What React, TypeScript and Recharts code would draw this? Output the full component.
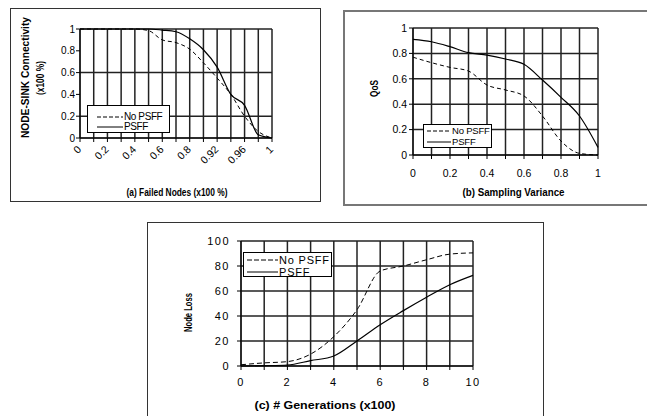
import { LineChart, Line, XAxis, YAxis, CartesianGrid, Legend, ReferenceLine } from "recharts";

const FONT = "'Liberation Sans', Arial, sans-serif";

// (a) failed nodes vs node-sink connectivity
const failedNodes = ["0", "0.1", "0.2", "0.3", "0.4", "0.5", "0.6", "0.7", "0.8", "0.9", "0.92", "0.94", "0.96", "0.98", "1"];
const connNoPsff = [1, 1, 1, 1, 1, 0.985, 0.9, 0.875, 0.815, 0.69, 0.55, 0.4, 0.2, 0.06, 0];
const connPsff = [1, 1, 1, 1, 1, 1, 0.99, 0.975, 0.91, 0.81, 0.65, 0.4, 0.3, 0.03, 0];
const connTicks = [0, 0.2, 0.4, 0.6, 0.8, 1];

// (b) sampling variance vs QoS
const variance = [0, 0.1, 0.2, 0.3, 0.4, 0.5, 0.6, 0.7, 0.8, 0.9, 1];
const qosNoPsff = [0.77, 0.727, 0.69, 0.661, 0.551, 0.512, 0.465, 0.307, 0.11, 0.013, 0];
const qosPsff = [0.911, 0.892, 0.853, 0.806, 0.787, 0.756, 0.714, 0.59, 0.454, 0.307, 0.06];
const qosTicks = [0, 0.2, 0.4, 0.6, 0.8, 1];

// (c) generations vs node loss
const generations = [0, 1, 2, 3, 4, 5, 6, 7, 8, 9, 10];
const lossNoPsff = [1, 2.5, 3.5, 9.5, 23.5, 45, 76, 80, 85, 89.5, 90.5];
const lossPsff = [0, 0.3, 0.8, 4.3, 8, 20, 33, 44.3, 55, 65, 72.5];
const lossTicks = [0, 20, 40, 60, 80, 100];

const seriesNames = ["No PSFF", "PSFF"];

const dataA = failedNodes.map((x, i) => ({ x, noPsff: connNoPsff[i], psff: connPsff[i] }));
const dataB = variance.map((x, i) => ({ x, noPsff: qosNoPsff[i], psff: qosPsff[i] }));
const dataC = generations.map((x, i) => ({ x, noPsff: lossNoPsff[i], psff: lossPsff[i] }));

const GRID = "#222";
const GRID_W = 1.5;
const BLACK = { stroke: "#000" };

const boldText = (text: string, dx: number, dy: number, size: number, len?: number, vertical?: boolean) =>
  (props: any) => {
    const vb = props.viewBox || { x: 0, y: 0, width: 0, height: 0 };
    const cx = vertical ? vb.x + dx : vb.x + vb.width / 2 + dx;
    const cy = vertical ? vb.y + vb.height / 2 + dy : vb.y + dy;
    return (
      <text
        x={cx}
        y={cy}
        textAnchor='middle'
        dominantBaseline='central'
        fontWeight='bold'
        fontSize={size}
        fontFamily={FONT}
        fill='#000'
        textLength={len}
        lengthAdjust={len ? "spacingAndGlyphs" : undefined}
        transform={vertical ? `rotate(-90, ${cx}, ${cy})` : undefined}>
        {text}
      </text>
    );
  };

const twoLineLabel = (props: any) => (
  <g>
    {boldText("NODE-SINK Connectivity", 5, -6, 10.5, 121, true)(props)}
    {boldText("(x100 %)", 19.5, -5.5, 10.5, 34, true)(props)}
  </g>
);

const SlantTick = (props: any) => {
  const { x, y, payload, index } = props;
  if (index % 2 !== 0) return <g />;
  const ax = x + 2;
  const ay = y + 6;
  return (
    <text
      x={ax}
      y={ay}
      transform={`rotate(-45, ${ax}, ${ay})`}
      textAnchor='end'
      fontSize={10.5}
      fontFamily={FONT}
      fill='#000'>
      {payload.value}
    </text>
  );
};

const makeLegend = (o: any) => (props: any) => (
  <div
    style={{
      border: "1px solid #000",
      background: "#fff",
      boxSizing: "border-box",
      width: o.w,
      height: o.h,
      paddingTop: o.pt,
      paddingLeft: o.pl,
      fontFamily: FONT,
      fontSize: o.fs,
      letterSpacing: o.ls || 0,
      color: "#000",
      lineHeight: 1,
    }}>
    {(props.payload || []).map((e: any) => (
      <div key={e.value} style={{ display: "flex", alignItems: "center", height: o.rh }}>
        <svg width={o.sw} height={4} style={{ marginRight: 1, flex: "none" }}>
          <line
            x1={0}
            y1={2}
            x2={o.sw}
            y2={2}
            stroke='#000'
            strokeWidth={1}
            strokeDasharray={e.dataKey === "noPsff" ? o.dash : undefined}
          />
        </svg>
        <span>{e.value}</span>
      </div>
    ))}
  </div>
);

const Frame = ({ left, top, width, height, border, children }: any) => (
  <div style={{ position: "absolute", left, top, width, height }}>
    <div
      style={{
        position: "absolute",
        inset: 0,
        border,
        boxSizing: "border-box",
      }}
    />
    <div style={{ position: "absolute", left: 0, top: 0 }}>{children}</div>
  </div>
);

const vLines = (values: (string | number)[]) =>
  values.map((v) => <ReferenceLine key={`v-${v}`} x={v} stroke={GRID} strokeWidth={GRID_W} />);

const lines = (dash: string) => [
  <Line
    key='n'
    type='monotone'
    dataKey='noPsff'
    name={seriesNames[0]}
    stroke='#000'
    strokeWidth={1}
    strokeDasharray={dash}
    dot={false}
    isAnimationActive={false}
  />,
  <Line
    key='p'
    type='monotone'
    dataKey='psff'
    name={seriesNames[1]}
    stroke='#000'
    strokeWidth={1.2}
    dot={false}
    isAnimationActive={false}
  />,
];

const App = () => {
  return (
    <div
      style={{
        position: "absolute",
        left: 0,
        top: 0,
        width: 647,
        height: 416,
        overflow: "hidden",
        background: "#fff",
      }}>
      <Frame left={10} top={8} width={311} height={194} border='1px solid #333'>
        <LineChart width={311} height={194} data={dataA} margin={{ top: 21, right: 49, bottom: 20, left: 10 }}>
          <CartesianGrid stroke={GRID} strokeWidth={GRID_W} vertical={false} />
          <XAxis
            dataKey='x'
            type='category'
            interval={0}
            height={44}
            tickSize={4}
            tickMargin={2}
            axisLine={BLACK}
            tickLine={BLACK}
            tick={SlantTick}
            label={boldText("(a) Failed Nodes (x100 %)", 1, 54, 11, 101)}
          />
          <YAxis
            domain={[0, 1]}
            ticks={connTicks}
            width={60}
            tickSize={4}
            tickMargin={1}
            stroke='#000'
            tick={{ fill: "#000", fontSize: 10, fontFamily: FONT }}
            label={twoLineLabel}
          />
          {vLines(failedNodes)}
          {lines("4 3")}
          <Legend
            layout='vertical'
            align='center'
            verticalAlign='middle'
            wrapperStyle={{ left: 77, top: 97, width: 83, height: 28 }}
            content={makeLegend({ w: 83, h: 28, pt: 6, pl: 9, fs: 10, ls: -0.4, rh: 10, sw: 26, dash: "4 2" })}
          />
        </LineChart>
      </Frame>

      <Frame left={343} top={10} width={330} height={196} border='2px solid #777'>
        <LineChart width={305} height={196} data={dataB} margin={{ top: 18, right: 50, bottom: 16, left: 10 }}>
          <CartesianGrid stroke={GRID} strokeWidth={GRID_W} vertical={false} />
          <XAxis
            dataKey='x'
            type='number'
            domain={[0, 1]}
            ticks={variance}
            interval={0}
            height={35}
            tickSize={4}
            tickMargin={11}
            axisLine={BLACK}
            tickLine={BLACK}
            tickFormatter={(v: number) => (qosTicks.includes(v) ? String(v) : "")}
            tick={{ fill: "#000", fontSize: 10.5, fontFamily: FONT }}
            label={boldText("(b)  Sampling Variance", 8, 37, 10.5, 102)}
          />
          <YAxis
            domain={[0, 1]}
            ticks={qosTicks}
            width={60}
            tickSize={4}
            tickMargin={2}
            stroke='#000'
            tick={{ fill: "#000", fontSize: 10.5, fontFamily: FONT }}
            label={boldText("QoS", 21, -3, 11, 17, true)}
          />
          {vLines(variance)}
          {lines("4 3")}
          <Legend
            layout='vertical'
            align='center'
            verticalAlign='middle'
            wrapperStyle={{ left: 80, top: 114, width: 69, height: 24 }}
            content={makeLegend({ w: 69, h: 24, pt: 0, pl: 3, fs: 9.5, ls: -0.2, rh: 11, sw: 24, dash: "4 2" })}
          />
        </LineChart>
      </Frame>

      <Frame left={147} top={222} width={397} height={200} border='1px solid #333'>
        <LineChart width={397} height={200} data={dataC} margin={{ top: 19, right: 71, bottom: 16, left: 14 }}>
          <CartesianGrid stroke={GRID} strokeWidth={GRID_W} vertical={false} />
          <XAxis
            dataKey='x'
            type='number'
            domain={[0, 10]}
            ticks={generations}
            interval={0}
            height={40}
            tickSize={4}
            tickMargin={8}
            axisLine={BLACK}
            tickLine={BLACK}
            tickFormatter={(v: number) => (v % 2 === 0 ? String(v) : "")}
            tick={{ fill: "#000", fontSize: 11, fontFamily: FONT, letterSpacing: 1.5 }}
            label={boldText("(c)  # Generations (x100)", -32, 39, 11, 141)}
          />
          <YAxis
            domain={[0, 100]}
            ticks={lossTicks}
            width={80}
            tickSize={4}
            tickMargin={7}
            stroke='#000'
            tick={{ fill: "#000", fontSize: 11, fontFamily: FONT, letterSpacing: 1.5 }}
            label={boldText("Node Loss", 27, 9, 10.5, 39, true)}
          />
          {vLines(generations)}
          {lines("5 3")}
          <Legend
            layout='vertical'
            align='center'
            verticalAlign='middle'
            wrapperStyle={{ left: 96, top: 30, width: 89, height: 25 }}
            content={makeLegend({ w: 89, h: 25, pt: 1, pl: 3, fs: 11, ls: 0.8, rh: 12, sw: 31, dash: "5 2" })}
          />
        </LineChart>
      </Frame>
    </div>
  );
};

export default App;
